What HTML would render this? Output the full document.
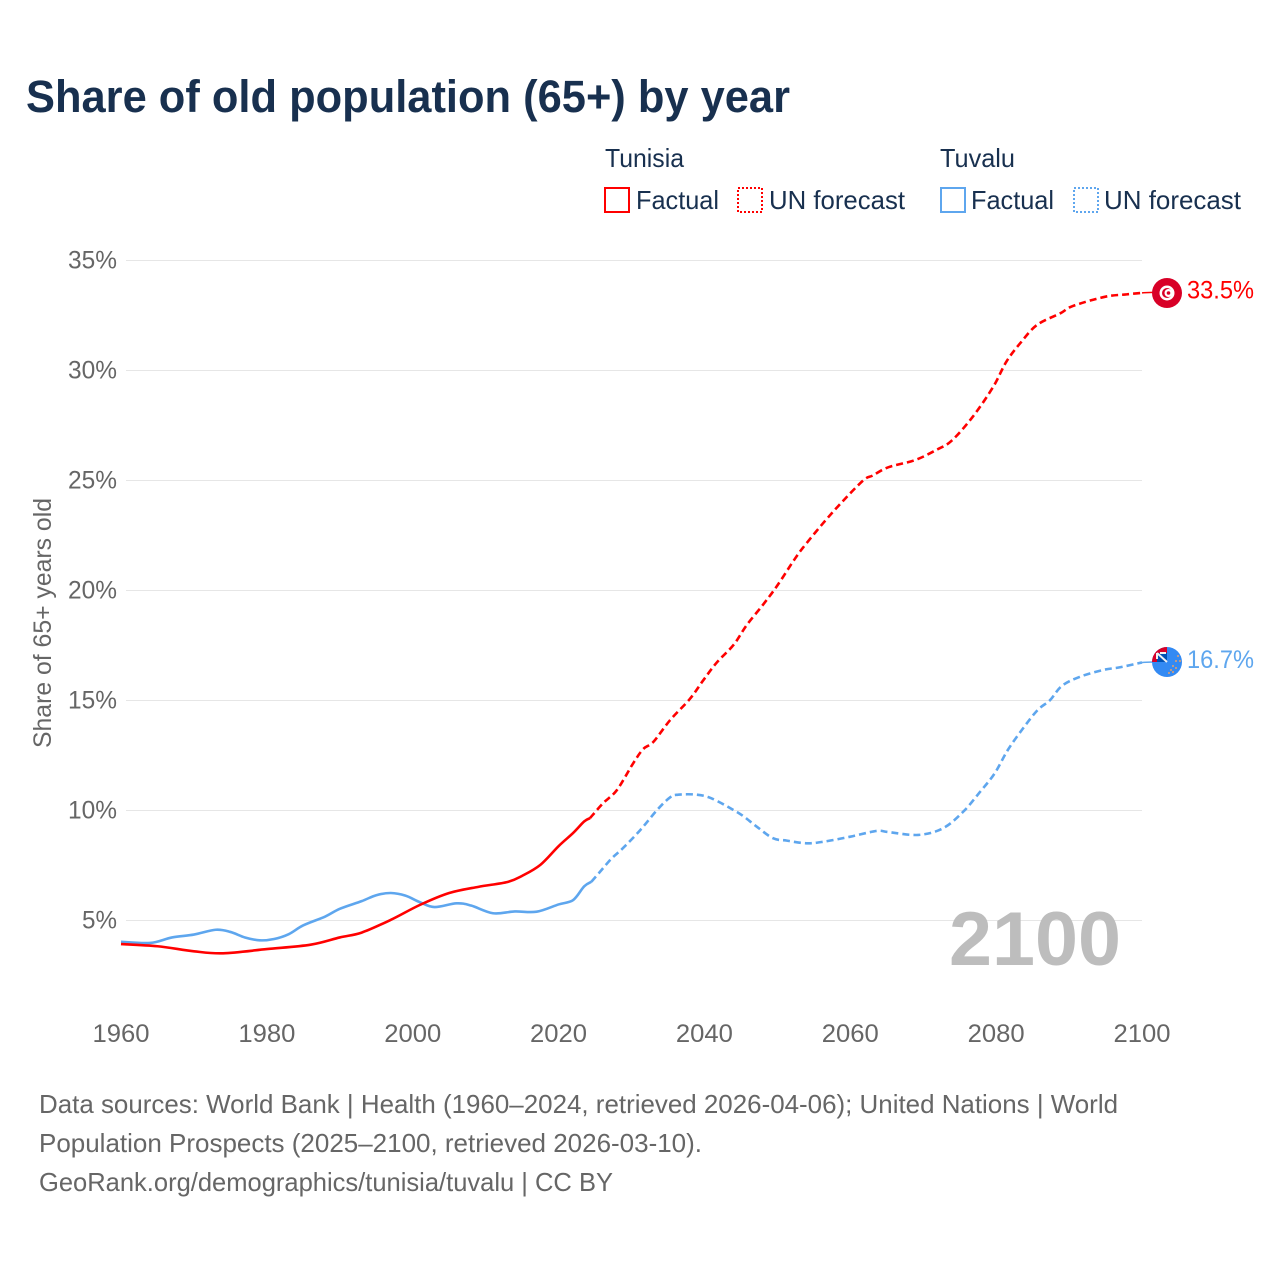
<!DOCTYPE html>
<html lang="en">
<head>
<meta charset="utf-8">
<title>Share of old population (65+) by year</title>
<style>
html,body{margin:0;padding:0;background:#fff;}
svg{display:block;}
text{font-family:"Liberation Sans",sans-serif;}
</style>
</head>
<body>
<svg id="chart" width="1280" height="1280" viewBox="0 0 1280 1280" xmlns="http://www.w3.org/2000/svg">
  <text x="26" y="112" font-size="45" font-weight="700" fill="#18304f" textLength="764" lengthAdjust="spacingAndGlyphs">Share of old population (65+) by year</text>

  <g font-size="26" fill="#18304f">
    <text x="605" y="167" textLength="79" lengthAdjust="spacingAndGlyphs">Tunisia</text>
    <rect x="605" y="188" width="24" height="24" fill="none" stroke="#ff0000" stroke-width="2"/>
    <text x="636" y="209" textLength="83" lengthAdjust="spacingAndGlyphs">Factual</text>
    <rect x="738" y="188" width="24" height="24" fill="none" stroke="#ff0000" stroke-width="2" stroke-dasharray="2 2"/>
    <text x="769" y="209" textLength="136" lengthAdjust="spacingAndGlyphs">UN forecast</text>
    <text x="940" y="167" textLength="75" lengthAdjust="spacingAndGlyphs">Tuvalu</text>
    <rect x="941" y="188" width="24" height="24" fill="none" stroke="#5ea6ee" stroke-width="2"/>
    <text x="971" y="209" textLength="83" lengthAdjust="spacingAndGlyphs">Factual</text>
    <rect x="1074" y="188" width="24" height="24" fill="none" stroke="#5ea6ee" stroke-width="2" stroke-dasharray="2 2"/>
    <text x="1104" y="209" textLength="137" lengthAdjust="spacingAndGlyphs">UN forecast</text>
  </g>

  <text transform="translate(51,623) rotate(-90)" text-anchor="middle" font-size="25" fill="#666666" textLength="250" lengthAdjust="spacingAndGlyphs">Share of 65+ years old</text>

  <g id="grid"></g>
  <g id="yticks" font-size="25" fill="#666666"></g>
  <g id="xticks" font-size="25" fill="#666666"></g>

  <text id="year-watermark" x="949" y="965" font-size="76" font-weight="700" fill="#bdbdbd" textLength="172" lengthAdjust="spacingAndGlyphs">2100</text>

  <g id="series"></g>

  <g id="flag-tunisia">
    <circle cx="1167" cy="293" r="15" fill="#d80027"/>
    <circle cx="1167" cy="293" r="7.500" fill="#ffffff"/>
    <circle cx="1167" cy="293" r="5" fill="#d80027"/>
    <circle cx="1168.500" cy="293" r="4" fill="#ffffff"/>
    <circle cx="1168.500" cy="293" r="1.800" fill="#d80027"/>
  </g>
  <g id="flag-tuvalu">
    <clipPath id="tv-clip"><circle cx="1167" cy="662" r="15"/></clipPath>
    <g clip-path="url(#tv-clip)">
      <rect x="1152" y="647" width="30" height="30" fill="#338af3"/>
      <rect x="1152" y="647" width="15" height="15" fill="#d80027"/>
      <rect x="1157" y="653" width="10" height="9" fill="#0052b4"/>
      <path d="M1157 653 L1167 662 M1160 653 L1166 653 M1157 653 L1157 659" stroke="#f2f2f2" stroke-width="2" fill="none"/>
      <g fill="#e3a06f" opacity="0.85">
        <circle cx="1178" cy="656" r="1.100"/><circle cx="1180" cy="661" r="1.100"/><circle cx="1176" cy="661" r="1.100"/>
        <circle cx="1173" cy="666" r="1.100"/><circle cx="1176" cy="668" r="1.100"/><circle cx="1171" cy="670" r="1.100"/>
        <circle cx="1169" cy="673" r="1.100"/><circle cx="1173" cy="672" r="1.100"/>
      </g>
    </g>
  </g>

  <g font-size="26" fill="#666666">
    <text x="39" y="1113" textLength="1079" lengthAdjust="spacingAndGlyphs">Data sources: World Bank | Health (1960–2024, retrieved 2026-04-06); United Nations | World</text>
    <text x="39" y="1152" textLength="663" lengthAdjust="spacingAndGlyphs">Population Prospects (2025–2100, retrieved 2026-03-10).</text>
    <text x="39" y="1191" textLength="574" lengthAdjust="spacingAndGlyphs">GeoRank.org/demographics/tunisia/tuvalu | CC BY</text>
  </g>
</svg>
<script>
const yTickValues = [5, 10, 15, 20, 25, 30, 35];
const xTickValues = [1960, 1980, 2000, 2020, 2040, 2060, 2080, 2100];

const tunisiaFactualYears = [1960,1965,1970,1974,1980,1986,1990,1993,1997,2001,2005,2009,2013,2015,2017.5,2020,2022,2023.5,2024.3];
const tunisiaFactualValues = [3.93,3.83,3.6,3.51,3.7,3.9,4.23,4.45,5.03,5.71,6.25,6.53,6.75,7.03,7.53,8.38,8.98,9.5,9.65];

const tuvaluFactualYears = [1960,1964,1967,1970,1973,1975,1977,1979,1981,1983,1985,1988,1990,1993,1995,1997,1999,2001,2003,2006,2008,2011,2014,2017,2020,2022,2023.5,2024.5];
const tuvaluFactualValues = [4.03,3.98,4.23,4.36,4.58,4.48,4.23,4.1,4.16,4.38,4.78,5.18,5.53,5.88,6.15,6.25,6.13,5.83,5.61,5.78,5.68,5.33,5.41,5.4,5.73,5.93,6.55,6.76];

const tunisiaForecastYears = [2024.3,2026.1,2028,2030.2,2031.6,2033,2035.3,2038,2039.8,2041.7,2044,2045.8,2048,2049.9,2052.2,2053.5,2056.3,2059,2061.8,2063.1,2065.2,2068.9,2071.8,2073.9,2076.8,2079.6,2081.4,2083.3,2085.6,2088.8,2090.5,2094.9,2097.9,2100];
const tunisiaForecastValues = [9.65,10.33,10.93,12.13,12.79,13.12,14.11,15.07,15.9,16.73,17.53,18.43,19.34,20.18,21.34,21.94,23.07,24.07,25.01,25.23,25.6,25.93,26.39,26.81,27.9,29.26,30.4,31.24,32.07,32.6,32.93,33.35,33.46,33.53];

const tuvaluForecastYears = [2024.5,2025.7,2027.3,2028.8,2031.2,2033.5,2035.3,2036.4,2038.9,2041,2044,2045.3,2047.2,2049.4,2051.3,2054,2056.3,2060,2063.6,2065.2,2069.3,2072.7,2075.5,2077.8,2079.8,2081.6,2083.7,2085.7,2087.4,2089,2091.5,2094.7,2097,2100];
const tuvaluForecastValues = [6.76,7.22,7.83,8.28,9.11,10.02,10.6,10.72,10.72,10.55,10.02,9.75,9.26,8.74,8.63,8.51,8.58,8.81,9.07,9.02,8.89,9.19,9.95,10.85,11.69,12.75,13.74,14.57,15.02,15.66,16.08,16.39,16.51,16.73];

const endLabelYear = 2100;
const tunisiaEndValue = 33.5;
const tuvaluEndValue = 16.7;

const SVG_NS = 'http://www.w3.org/2000/svg';
function xScale(year) { return 121 + (year - 1960) * (1021 / 140); }
function yScale(v) { return 1030.5 - v * 22; }

function smoothPath(xs, ys) {
  const p = xs.map(function (x, i) { return [xScale(x), yScale(ys[i])]; });
  let d = 'M' + p[0][0].toFixed(2) + ' ' + p[0][1].toFixed(2);
  for (let i = 0; i < p.length - 1; i++) {
    const a = p[Math.max(i - 1, 0)], b = p[i], c = p[i + 1], e = p[Math.min(i + 2, p.length - 1)];
    const c1x = b[0] + (c[0] - a[0]) / 6, c1y = b[1] + (c[1] - a[1]) / 6;
    const c2x = c[0] - (e[0] - b[0]) / 6, c2y = c[1] - (e[1] - b[1]) / 6;
    d += 'C' + c1x.toFixed(2) + ' ' + c1y.toFixed(2) + ' ' + c2x.toFixed(2) + ' ' + c2y.toFixed(2) + ' ' + c[0].toFixed(2) + ' ' + c[1].toFixed(2);
  }
  return d;
}

const grid = document.getElementById('grid');
const yticks = document.getElementById('yticks');
const xticks = document.getElementById('xticks');
const series = document.getElementById('series');
const chart = document.getElementById('chart');

yTickValues.forEach(function (v) {
  const line = document.createElementNS(SVG_NS, 'line');
  
  
  line.setAttribute('x1', 126);
  line.setAttribute('x2', 1142);
  line.setAttribute('y1', yScale(v));
  line.setAttribute('y2', yScale(v));
  line.setAttribute('stroke', '#e6e6e6');
  line.setAttribute('stroke-width', 1);
  grid.appendChild(line);
  const t = document.createElementNS(SVG_NS, 'text');
  
  
  t.setAttribute('x', 117);
  t.setAttribute('y', yScale(v) + 8);
  t.setAttribute('text-anchor', 'end');
  t.setAttribute('textLength', v < 10 ? 35 : 49);
  t.setAttribute('lengthAdjust', 'spacingAndGlyphs');
  t.textContent = v + '%';
  yticks.appendChild(t);
});

xTickValues.forEach(function (y) {
  const t = document.createElementNS(SVG_NS, 'text');
  
  
  t.setAttribute('x', xScale(y));
  t.setAttribute('y', 1042);
  t.setAttribute('text-anchor', 'middle');
  t.setAttribute('textLength', 57);
  t.setAttribute('lengthAdjust', 'spacingAndGlyphs');
  t.textContent = y;
  xticks.appendChild(t);
});

function addSeries(name, xs, ys, color, dash) {
  const path = document.createElementNS(SVG_NS, 'path');
  
  
  path.setAttribute('d', smoothPath(xs, ys));
  path.setAttribute('fill', 'none');
  path.setAttribute('stroke', color);
  path.setAttribute('stroke-width', 2.6);
  path.setAttribute('stroke-linejoin', 'round');
  if (dash) path.setAttribute('stroke-dasharray', dash);
  series.appendChild(path);
}

addSeries('line-tuvalu-factual', tuvaluFactualYears, tuvaluFactualValues, '#5ea6ee', null);
addSeries('line-tunisia-factual', tunisiaFactualYears, tunisiaFactualValues, '#ff0000', null);
addSeries('line-tuvalu-forecast', tuvaluForecastYears, tuvaluForecastValues, '#5ea6ee', '7 4');
addSeries('line-tunisia-forecast', tunisiaForecastYears, tunisiaForecastValues, '#ff0000', '7 4');

function addConnector(name, value, color) {
  const line = document.createElementNS(SVG_NS, 'line');
  
  
  line.setAttribute('x1', xScale(endLabelYear));
  line.setAttribute('x2', xScale(endLabelYear) + 11);
  line.setAttribute('y1', yScale(value));
  line.setAttribute('y2', yScale(value) - 0.5);
  line.setAttribute('stroke', color);
  line.setAttribute('stroke-width', 1.5);
  series.appendChild(line);
}
addConnector('connector-tunisia', tunisiaForecastValues[tunisiaForecastValues.length - 1], '#ff0000');
addConnector('connector-tuvalu', tuvaluForecastValues[tuvaluForecastValues.length - 1], '#5ea6ee');

function addEndLabel(name, value, color) {
  const t = document.createElementNS(SVG_NS, 'text');
  
  
  t.setAttribute('x', xScale(endLabelYear) + 45);
  t.setAttribute('y', yScale(value) + 5);
  t.setAttribute('font-size', 25);
  t.setAttribute('fill', color);
  t.setAttribute('textLength', 67);
  t.setAttribute('lengthAdjust', 'spacingAndGlyphs');
  t.textContent = value.toFixed(1) + '%';
  chart.appendChild(t);
}
addEndLabel('end-label-tunisia', tunisiaEndValue, '#ff0000');
addEndLabel('end-label-tuvalu', tuvaluEndValue, '#5ea6ee');
</script>
</body>
</html>
